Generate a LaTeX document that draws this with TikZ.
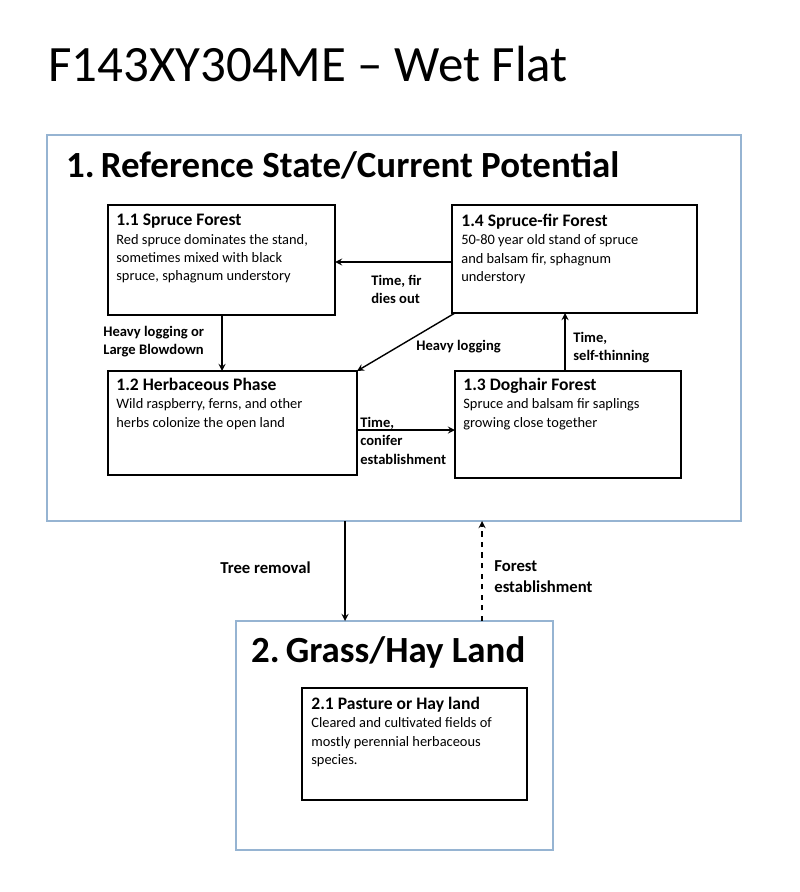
\documentclass[tikz,border=0pt]{standalone}
\usepackage{fontspec}
\setmainfont{Carlito}
\usepackage{tikz}
\definecolor{statecol}{RGB}{150,180,210}
\begin{document}
\begin{tikzpicture}[x=0.02cm,y=-0.02cm,
  statebox/.style={draw=statecol, line width=0.8pt},
  phasebox/.style={draw, line width=0.8pt},
  phasetext/.style={anchor=north west, align=left, font=\fontsize{8.2}{10.4}\selectfont, inner sep=0pt},
  lbl/.style={align=left, font=\bfseries\fontsize{8.3}{10.4}\selectfont, inner sep=0pt},
  arr/.style={->, >=stealth, line width=0.8pt}]
  \useasboundingbox (0,0) rectangle (800,892);
  % Title
  \node[anchor=west, font=\fontsize{29}{34}\selectfont] (title) at (42,64) {F143XY304ME -- Wet Flat};

  % State 1
  \draw[statebox] (47,135) rectangle (741,521);
  \node[anchor=west, font=\bfseries\fontsize{21}{25}\selectfont] (s1) at (60,165) {1.\,Reference State/Current Potential};
  \draw[phasebox] (108,205) rectangle (335,315);
  \draw[phasebox] (452,205) rectangle (697,313);
  \draw[phasebox] (108,371) rectangle (357,475);
  \draw[phasebox] (455,371) rectangle (681,478);
  \node[phasetext] (p11) at (116,214) {\textbf{\fontsize{10}{12}\selectfont 1.1 Spruce Forest}\\Red spruce dominates the stand,\\sometimes mixed with black\\spruce, sphagnum understory};
  \node[phasetext] (p14) at (461,214) {\textbf{\fontsize{10}{12}\selectfont 1.4 Spruce-fir Forest}\\50-80 year old stand of spruce\\and balsam fir, sphagnum\\understory};
  \node[phasetext] (p12) at (116,378) {\textbf{\fontsize{10}{12}\selectfont 1.2 Herbaceous Phase}\\Wild raspberry, ferns, and other\\herbs colonize the open land};
  \node[phasetext] (p13) at (463,378) {\textbf{\fontsize{10}{12}\selectfont 1.3 Doghair Forest}\\Spruce and balsam fir saplings\\growing close together};

  % Transitions in state 1
  \coordinate (a1) at (452,262); \coordinate (a2) at (335,262);
  \draw[arr] (a1) -- (a2);
  \node[lbl, anchor=north west] (t1) at (371,275) {Time, fir\\dies out};
  \coordinate (b1) at (222,315); \coordinate (b2) at (222,371);
  \draw[arr] (b1) -- (b2);
  \node[lbl, anchor=north west] (t2) at (103,326) {Heavy logging or\\Large Blowdown};
  \coordinate (c1) at (455,313); \coordinate (c2) at (357,371);
  \draw[arr] (c1) -- (c2);
  \node[lbl, anchor=north west] (t3) at (416,340) {Heavy logging};
  \coordinate (d1) at (357,430); \coordinate (d2) at (455,430);
  \draw[arr] (d1) -- (d2);
  \node[lbl, anchor=north west] (t4) at (360,417) {Time,\\conifer\\establishment};
  \coordinate (e1) at (565,371); \coordinate (e2) at (565,313);
  \draw[arr] (e1) -- (e2);
  \node[lbl, anchor=north west] (t5) at (573,332) {Time,\\self-thinning};

  % State 2
  \draw[statebox] (236,621) rectangle (553,850);
  \node[anchor=west, font=\bfseries\fontsize{21}{25}\selectfont] (s2) at (245,652) {2.\,Grass/Hay Land};
  \draw[phasebox] (302,688) rectangle (527,800);
  \node[phasetext] (p21) at (311,697) {\textbf{\fontsize{10}{12}\selectfont 2.1 Pasture or Hay land}\\Cleared and cultivated fields of\\mostly perennial herbaceous\\species.};

  % Transitions between states
  \coordinate (f1) at (345,521); \coordinate (f2) at (345,621);
  \draw[arr] (f1) -- (f2);
  \node[lbl, anchor=west, font=\bfseries\fontsize{9.5}{12}\selectfont] (t6) at (220,568) {Tree removal};
  \coordinate (g1) at (482,621); \coordinate (g2) at (482,521);
  \draw[arr, dashed] (g1) -- (g2);
  \node[lbl, anchor=north west, font=\bfseries\fontsize{9.5}{12}\selectfont] (t7) at (494,560) {Forest\\establishment};
\end{tikzpicture}
\end{document}
